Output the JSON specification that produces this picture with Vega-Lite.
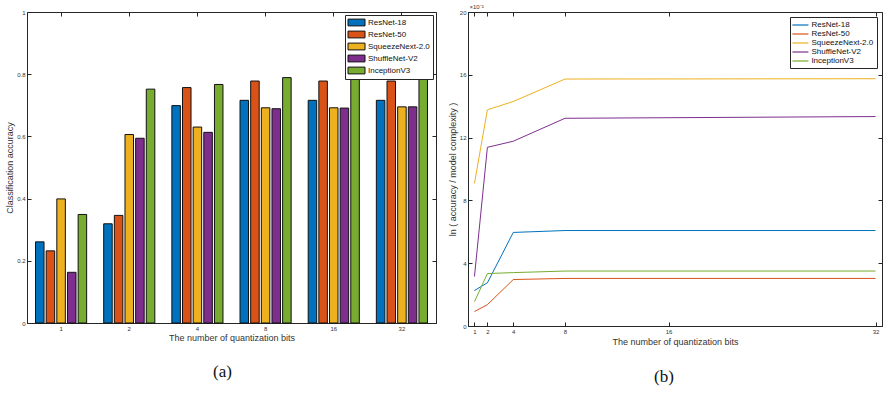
{
  "$schema": "https://vega.github.io/schema/vega-lite/v6.json",
  "padding": {"left": 5, "top": 2, "right": 4, "bottom": 4},
  "background": "white",
  "bounds": "flush",
  "spacing": 32,
  "config": {
    "font": "Liberation Sans",
    "view": {"stroke": "#262626", "strokeWidth": 1},
    "axis": {
      "grid": false,
      "labelFontSize": 6,
      "labelColor": "#333333",
      "titleFontSize": 9,
      "titleFontWeight": "normal",
      "titleColor": "#333333",
      "domainColor": "#262626",
      "tickColor": "#262626",
      "tickSize": -4,
      "labelPadding": 6
    },
    "legend": {
      "labelFont": "Liberation Sans",
      "labelFontSize": 8,
      "labelColor": "#111111",
      "strokeColor": "#262626",
      "fillColor": "white",
      "padding": 3,
      "rowPadding": 0,
      "title": null
    },
    "title": {"font": "Liberation Serif", "fontSize": 17, "fontWeight": "normal", "color": "#111111"}
  },
  "datasets": {
    "acc": [
      {"bits": 1, "model": "ResNet-18", "accuracy": 0.261},
      {"bits": 1, "model": "ResNet-50", "accuracy": 0.232},
      {"bits": 1, "model": "SqueezeNext-2.0", "accuracy": 0.399},
      {"bits": 1, "model": "ShuffleNet-V2", "accuracy": 0.163},
      {"bits": 1, "model": "InceptionV3", "accuracy": 0.349},
      {"bits": 2, "model": "ResNet-18", "accuracy": 0.319},
      {"bits": 2, "model": "ResNet-50", "accuracy": 0.346},
      {"bits": 2, "model": "SqueezeNext-2.0", "accuracy": 0.606},
      {"bits": 2, "model": "ShuffleNet-V2", "accuracy": 0.594},
      {"bits": 2, "model": "InceptionV3", "accuracy": 0.752},
      {"bits": 4, "model": "ResNet-18", "accuracy": 0.699},
      {"bits": 4, "model": "ResNet-50", "accuracy": 0.757},
      {"bits": 4, "model": "SqueezeNext-2.0", "accuracy": 0.630},
      {"bits": 4, "model": "ShuffleNet-V2", "accuracy": 0.613},
      {"bits": 4, "model": "InceptionV3", "accuracy": 0.767},
      {"bits": 8, "model": "ResNet-18", "accuracy": 0.716},
      {"bits": 8, "model": "ResNet-50", "accuracy": 0.778},
      {"bits": 8, "model": "SqueezeNext-2.0", "accuracy": 0.692},
      {"bits": 8, "model": "ShuffleNet-V2", "accuracy": 0.689},
      {"bits": 8, "model": "InceptionV3", "accuracy": 0.789},
      {"bits": 16, "model": "ResNet-18", "accuracy": 0.716},
      {"bits": 16, "model": "ResNet-50", "accuracy": 0.778},
      {"bits": 16, "model": "SqueezeNext-2.0", "accuracy": 0.692},
      {"bits": 16, "model": "ShuffleNet-V2", "accuracy": 0.691},
      {"bits": 16, "model": "InceptionV3", "accuracy": 0.789},
      {"bits": 32, "model": "ResNet-18", "accuracy": 0.716},
      {"bits": 32, "model": "ResNet-50", "accuracy": 0.778},
      {"bits": 32, "model": "SqueezeNext-2.0", "accuracy": 0.695},
      {"bits": 32, "model": "ShuffleNet-V2", "accuracy": 0.695},
      {"bits": 32, "model": "InceptionV3", "accuracy": 0.790}
    ],
    "ratio": [
      {"bits": 1, "model": "ResNet-18", "ratio": 0.0226},
      {"bits": 2, "model": "ResNet-18", "ratio": 0.0275},
      {"bits": 4, "model": "ResNet-18", "ratio": 0.0596},
      {"bits": 8, "model": "ResNet-18", "ratio": 0.0608},
      {"bits": 32, "model": "ResNet-18", "ratio": 0.0608},
      {"bits": 1, "model": "ResNet-50", "ratio": 0.0092},
      {"bits": 2, "model": "ResNet-50", "ratio": 0.0136},
      {"bits": 4, "model": "ResNet-50", "ratio": 0.0296},
      {"bits": 8, "model": "ResNet-50", "ratio": 0.0303},
      {"bits": 32, "model": "ResNet-50", "ratio": 0.0303},
      {"bits": 1, "model": "SqueezeNext-2.0", "ratio": 0.0909},
      {"bits": 2, "model": "SqueezeNext-2.0", "ratio": 0.1377},
      {"bits": 4, "model": "SqueezeNext-2.0", "ratio": 0.1430},
      {"bits": 8, "model": "SqueezeNext-2.0", "ratio": 0.1573},
      {"bits": 32, "model": "SqueezeNext-2.0", "ratio": 0.1575},
      {"bits": 1, "model": "ShuffleNet-V2", "ratio": 0.0315},
      {"bits": 2, "model": "ShuffleNet-V2", "ratio": 0.1138},
      {"bits": 4, "model": "ShuffleNet-V2", "ratio": 0.1177},
      {"bits": 8, "model": "ShuffleNet-V2", "ratio": 0.1323},
      {"bits": 32, "model": "ShuffleNet-V2", "ratio": 0.1334},
      {"bits": 1, "model": "InceptionV3", "ratio": 0.0155},
      {"bits": 2, "model": "InceptionV3", "ratio": 0.0334},
      {"bits": 4, "model": "InceptionV3", "ratio": 0.0340},
      {"bits": 8, "model": "InceptionV3", "ratio": 0.0350},
      {"bits": 32, "model": "InceptionV3", "ratio": 0.0350}
    ]
  },
  "hconcat": [
    {
      "width": 409,
      "height": 311,
      "data": {"name": "acc"},
      "title": {"text": "(a)", "orient": "bottom", "offset": 22, "dx": -9},
      "layer": [
        {
          "mark": {"type": "bar", "stroke": "#111111", "strokeWidth": 1},
          "encoding": {
            "x": {
              "field": "bits", "type": "ordinal", "sort": [1, 2, 4, 8, 16, 32],
              "scale": {"paddingInner": 0.25, "paddingOuter": 0.125},
              "axis": {"title": "The number of quantization bits", "labelAngle": 0, "titlePadding": 2}
            },
            "xOffset": {
              "field": "model", "type": "nominal",
              "sort": ["ResNet-18", "ResNet-50", "SqueezeNext-2.0", "ShuffleNet-V2", "InceptionV3"],
              "scale": {"paddingInner": 0.2}
            },
            "y": {
              "field": "accuracy", "type": "quantitative", "stack": null,
              "scale": {"domain": [0, 1], "nice": false},
              "axis": {"title": "Classification accuracy", "values": [0, 0.2, 0.4, 0.6, 0.8, 1], "format": "~g", "titlePadding": 2}
            },
            "color": {
              "field": "model", "type": "nominal",
              "scale": {
                "domain": ["ResNet-18", "ResNet-50", "SqueezeNext-2.0", "ShuffleNet-V2", "InceptionV3"],
                "range": ["#0072BD", "#D95319", "#EDB120", "#7E2F8E", "#77AC30"]
              },
              "legend": {
                "orient": "top-right",
                "offset": 3,
                "symbolType": "M-2.125,-0.85H2.125V0.85H-2.125Z",
                "symbolSize": 64,
                "symbolOffset": 4,
                "symbolStrokeColor": "#111111",
                "symbolStrokeWidth": 1,
                "symbolOpacity": 1,
                "labelOffset": 7,
                "rowPadding": 1
              }
            }
          }
        },
        {
          "mark": {"type": "bar", "opacity": 0},
          "encoding": {
            "x": {"field": "bits", "type": "ordinal", "sort": [1, 2, 4, 8, 16, 32],
              "axis": {"orient": "top", "labels": false, "title": null, "domain": false}},
            "y": {"field": "accuracy", "type": "quantitative", "stack": null,
              "axis": {"orient": "right", "labels": false, "title": null, "domain": false, "values": [0, 0.2, 0.4, 0.6, 0.8, 1]}}
          }
        }
      ],
      "resolve": {"axis": {"x": "independent", "y": "independent"}}
    },
    {
      "width": 414,
      "height": 314,
      "data": {"name": "ratio"},
      "title": {"text": "(b)", "orient": "bottom", "offset": 23, "dx": -11},
      "layer": [
        {
          "mark": {"type": "line", "strokeWidth": 1},
          "encoding": {
            "x": {
              "field": "bits", "type": "quantitative",
              "scale": {"domain": [0.5, 32.5], "nice": false, "zero": false},
              "axis": {"title": "The number of quantization bits", "values": [1, 2, 4, 8, 16, 32], "titlePadding": 3}
            },
            "y": {
              "field": "ratio", "type": "quantitative",
              "scale": {"domain": [0, 0.2], "nice": false},
              "axis": {"title": "ln ( accuracy / model complexity )", "values": [0, 0.04, 0.08, 0.12, 0.16, 0.2],
                "labelExpr": "format(datum.value*100, '.0f')", "titlePadding": 2}
            },
            "color": {
              "field": "model", "type": "nominal",
              "scale": {
                "domain": ["ResNet-18", "ResNet-50", "SqueezeNext-2.0", "ShuffleNet-V2", "InceptionV3"],
                "range": ["#0072BD", "#D95319", "#EDB120", "#7E2F8E", "#77AC30"]
              },
              "legend": {
                "orient": "top-right",
                "offset": 5,
                "symbolType": "M-2,0H2",
                "symbolSize": 64,
                "symbolOffset": 2.4,
                "symbolStrokeWidth": 1.2,
                "labelOffset": 6
              }
            }
          }
        },
        {
          "mark": {"type": "line", "opacity": 0},
          "encoding": {
            "x": {"field": "bits", "type": "quantitative",
              "axis": {"orient": "top", "labels": false, "domain": false, "values": [1, 2, 4, 8, 16, 32],
                "title": "×10⁻²", "titleFontSize": 6, "titleAnchor": "start", "titleAlign": "left", "titleX": 1, "titleY": -3, "titleAngle": 0}},
            "y": {"field": "ratio", "type": "quantitative",
              "axis": {"orient": "right", "labels": false, "title": null, "domain": false, "values": [0, 0.04, 0.08, 0.12, 0.16, 0.2]}}
          }
        }
      ],
      "resolve": {"axis": {"x": "independent", "y": "independent"}}
    }
  ],
  "resolve": {"scale": {"color": "independent"}}
}
